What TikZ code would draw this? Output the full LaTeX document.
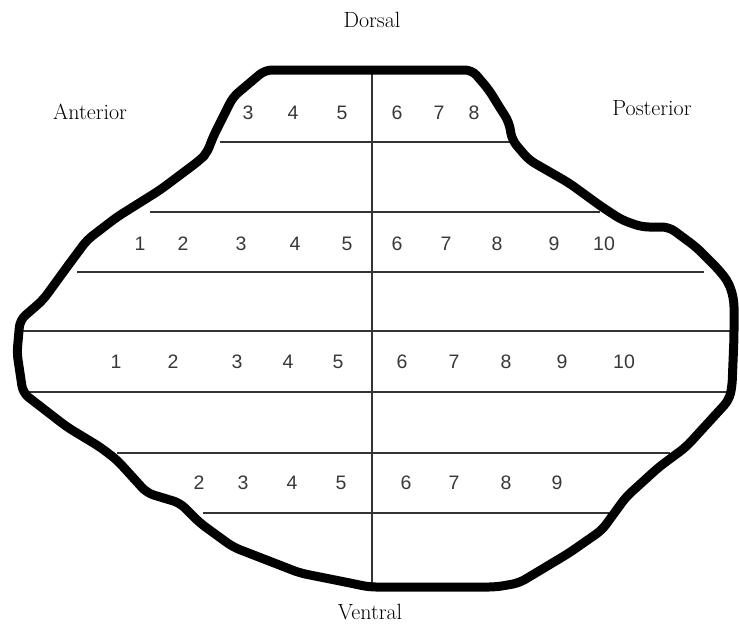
\documentclass[tikz,border=0pt]{standalone}
\usepackage{fontspec}
\setsansfont{Liberation Sans}
\usepackage{tikz}

\begin{document}
\begin{tikzpicture}[x=1pt,y=-1pt,
  num/.style={font=\sffamily\fontsize{19.5}{20}\selectfont,text=black!78},
  side/.style={font=\fontsize{22}{26}\selectfont},
  grid/.style={draw=black!80,line width=1.2pt},
  rim/.style={draw=black,line width=9pt,line join=round,line cap=round,rounded corners=7pt}]
  \useasboundingbox (0,0) rectangle (739,632);
  % section lines
  \foreach \y/\a/\b in {142/220/510,212/150/600,272/77/704,331/22/734,392/22/730,453/117/670,513/203/609} {
    \draw[grid] (\a,\y) -- (\b,\y);
  }
  \draw[grid] (372,70) -- (372,587);
  % outline of the section
  \draw[rim] (265,70) -- (472,70) -- (489,90) -- (500,108) -- (509,122) -- (512,140)
    -- (529,160) -- (569,183) -- (602,207) -- (622,220) -- (642,227) -- (669,227)
    -- (696,247) -- (719,270) -- (729,283) -- (734,300) -- (734,337) -- (732,387)
    -- (729,400) -- (686,447) -- (659,467) -- (626,497) -- (602,530) -- (569,553)
    -- (519,583) -- (496,587) -- (369,587) -- (350,583) -- (300,573) -- (233,547)
    -- (200,523) -- (180,503) -- (147,493) -- (117,460) -- (100,447) -- (67,427)
    -- (23,393) -- (17,353) -- (20,320) -- (43,300) -- (67,267) -- (87,240)
    -- (117,217) -- (160,190) -- (200,160) -- (207,153) -- (213,137) -- (233,97)
    -- cycle;
  % numbers of the rows
  \foreach \i/\x in {3/248,4/293,5/342,6/397,7/439,8/474} {
    \node[num] (a\i) at (\x,113) {\i};
  }
  \foreach \i/\x in {1/140,2/183,3/241,4/295,5/347,6/397,7/446,8/497,9/554,10/604} {
    \node[num] (b\i) at (\x,244) {\i};
  }
  \foreach \i/\x in {1/116,2/173,3/237,4/288,5/338,6/402,7/454,8/506,9/562,10/624} {
    \node[num] (c\i) at (\x,362) {\i};
  }
  \foreach \i/\x in {2/199,3/243,4/292,5/341,6/406,7/454,8/506,9/557} {
    \node[num] (d\i) at (\x,483) {\i};
  }
  % orientation
  \node[side] (dorsal) at (372,20) {Dorsal};
  \node[side] (ventral) at (370,612) {Ventral};
  \node[side] (anterior) at (90,112) {Anterior};
  \node[side] (posterior) at (652,108) {Posterior};
\end{tikzpicture}
\end{document}
